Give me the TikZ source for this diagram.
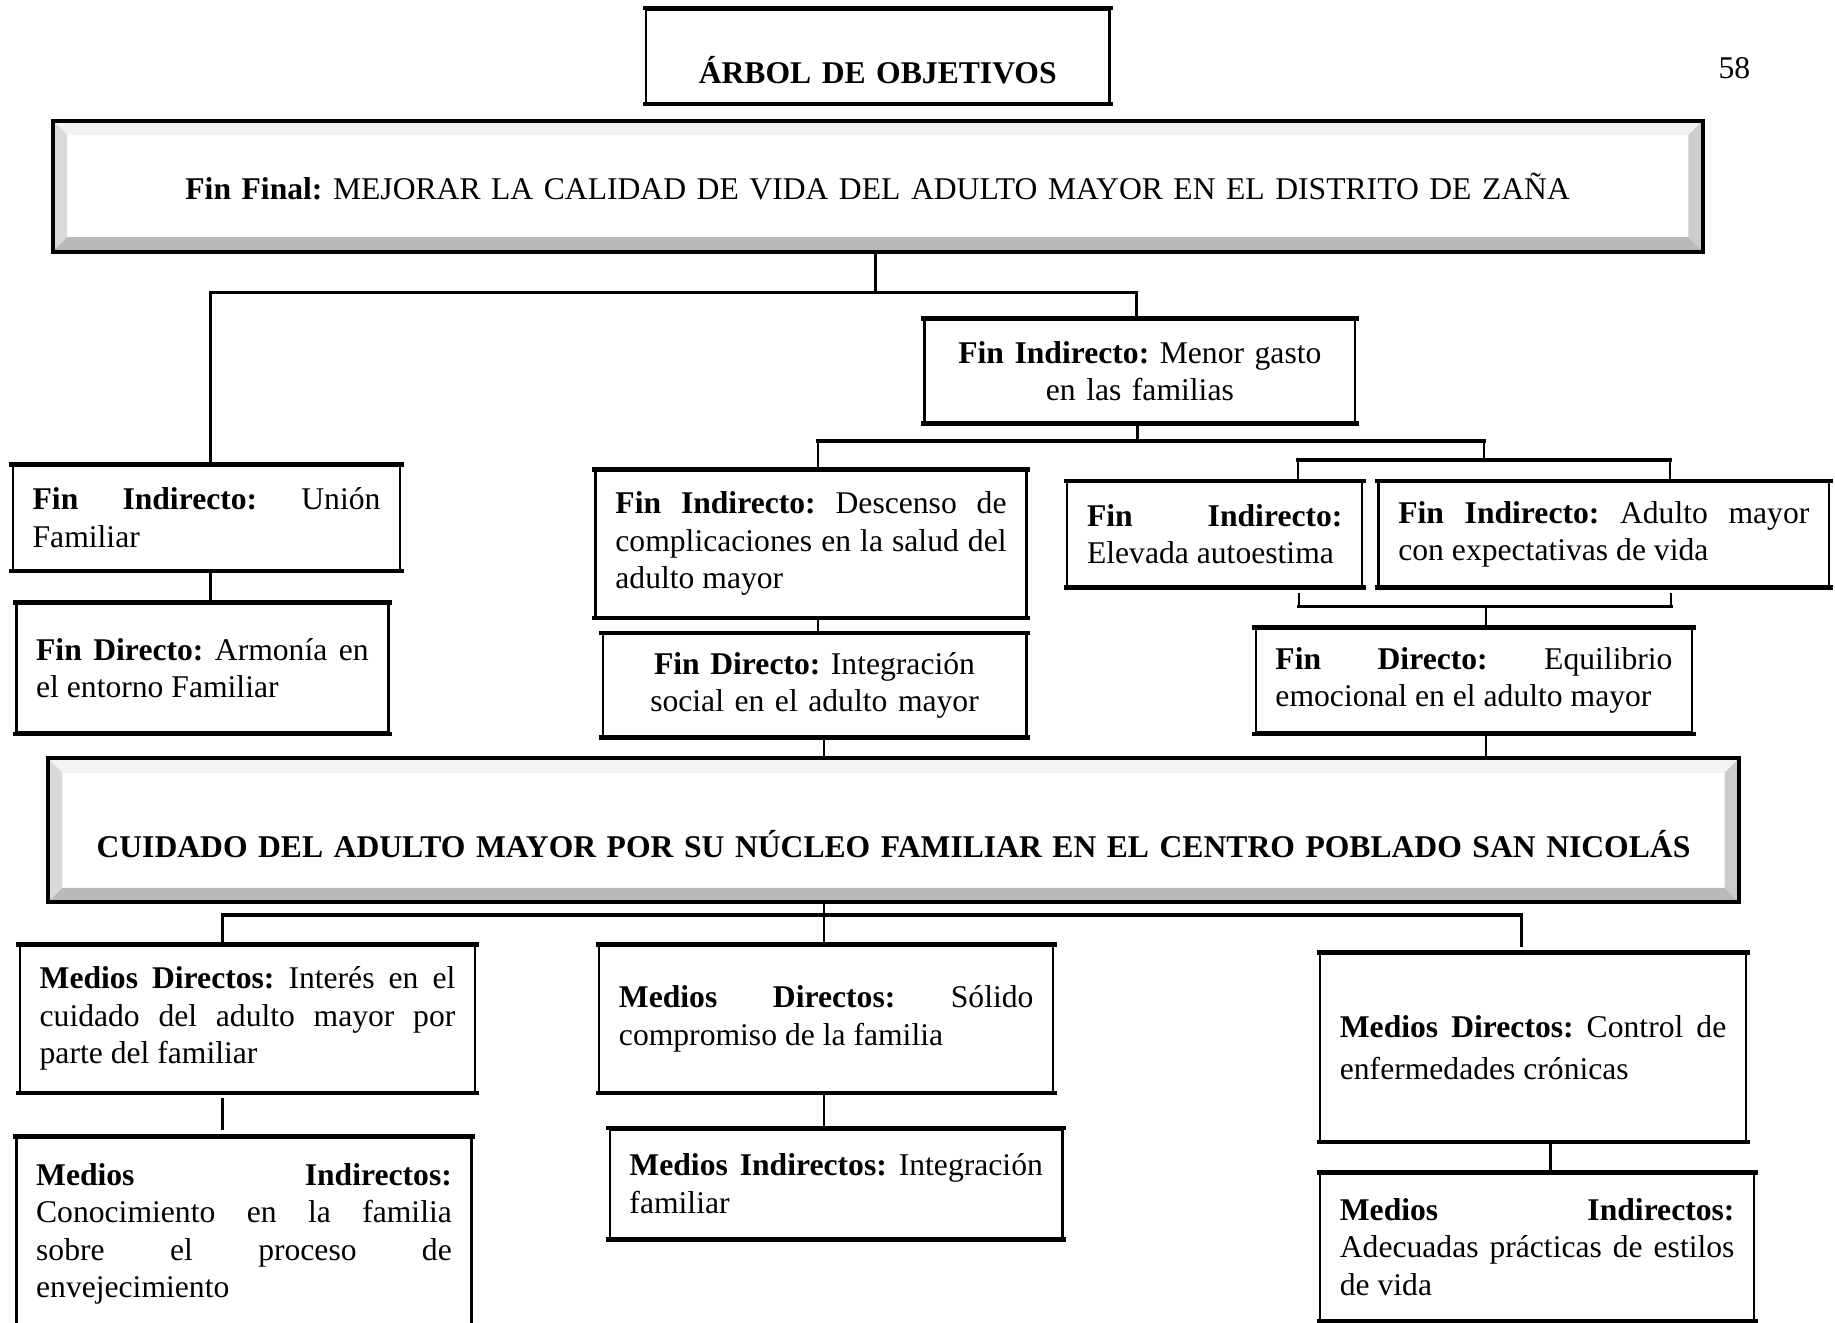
\documentclass[tikz,border=0pt]{standalone}
\usepackage{fontspec}
\setmainfont{Liberation Serif}
\usetikzlibrary{positioning,calc}

\tikzset{
  ancho/.code={%
    \pgfmathsetlengthmacro\anchocaja{#1*0.444pt}%
    \pgfmathsetlengthmacro\anchotexto{#1*0.444pt-15pt}%
    \edef\cajatmp{\noexpand\tikzset{minimum width=\anchocaja,text width=\anchotexto}}\cajatmp},
  alto/.code={%
    \pgfmathsetlengthmacro\altocaja{#1*0.444pt}%
    \edef\cajatmp{\noexpand\tikzset{minimum height=\altocaja}}\cajatmp},
}

\begin{document}
\frenchspacing
\begin{tikzpicture}[x=0.444pt,y=-0.444pt,
    font=\fontsize{12}{14.2}\selectfont,
    execute at begin node={\frenchspacing\tolerance=10000\hyphenpenalty=10000\relax},
    borde/.style={line width=1.7pt,line cap=rect},
    caja/.style={draw,line width=0.9pt,inner xsep=7.5pt,inner ysep=2pt,align=justify,
      append after command={\pgfextra{\let\cajanodo\tikzlastnode}
        (\cajanodo.north west) edge[draw,borde] (\cajanodo.north east)
        (\cajanodo.south west) edge[draw,borde] (\cajanodo.south east)}},
    bisel/.style={draw,line width=1.5pt,fill=white,inner sep=0pt,align=center,
      path picture={
        \path (path picture bounding box.north west) coordinate (pa)
              (path picture bounding box.north east) coordinate (pb)
              (path picture bounding box.south east) coordinate (pc)
              (path picture bounding box.south west) coordinate (pd);
        \fill[gray!10] (pa) -- (pb) -- ([shift={(-5.5pt,-5.5pt)}]pb) -- ([shift={(5.5pt,-5.5pt)}]pa) -- cycle;
        \fill[gray!30] (pa) -- (pd) -- ([shift={(5.5pt,5.5pt)}]pd) -- ([shift={(5.5pt,-5.5pt)}]pa) -- cycle;
        \fill[gray!40] (pb) -- (pc) -- ([shift={(-5.5pt,5.5pt)}]pc) -- ([shift={(-5.5pt,-5.5pt)}]pb) -- cycle;
        \fill[gray!55] (pd) -- (pc) -- ([shift={(-5.5pt,5.5pt)}]pc) -- ([shift={(5.5pt,5.5pt)}]pd) -- cycle;
      }},
    vert/.style={line width=0.9pt},
    horiz/.style={line width=1.3pt,line cap=rect}]

  \useasboundingbox (0,0) rectangle (1568,1130);

  % titulo y fin final
  \node[caja,ancho=396,alto=80,align=center,text height=20.4pt,text depth=0pt] (titulo) at (750,48) {\textbf{ÁRBOL DE OBJETIVOS}};
  \node (pagina) at (1482,58) {58};
  \node[bisel,ancho=1410,alto=112] (final) at (750,159) {\textbf{Fin Final:} MEJORAR LA CALIDAD DE VIDA DEL ADULTO MAYOR EN EL DISTRITO DE ZAÑA};

  % fines
  \node[caja,ancho=368,alto=88,align=center] (gasto) at (974,317) {\textbf{Fin Indirecto:} Menor gasto\\ en las familias};
  \node[caja,ancho=331,alto=89] (union) at (176.5,442.5) {\textbf{Fin Indirecto:} Unión\linebreak Familiar};
  \node[caja,ancho=318,alto=110] (armonia) at (173,571) {\textbf{Fin Directo:} Armonía en\linebreak el entorno Familiar};
  \node[caja,ancho=368,alto=125] (descenso) at (693,464.5) {\textbf{Fin Indirecto:} Descenso de\linebreak complicaciones en la salud del\linebreak adulto mayor};
  \node[caja,ancho=362,alto=87,align=center] (integra) at (696,585.5) {\textbf{Fin Directo:} Integración\\ social en el adulto mayor};
  \node[caja,ancho=252,alto=89] (elevada) at (1038,456.5) {\textbf{Fin Indirecto:}\linebreak Elevada autoestima};
  \node[caja,ancho=385,alto=89] (expecta) at (1370.5,456.5) {\textbf{Fin Indirecto:} Adulto mayor\linebreak con expectativas de vida};
  \node[caja,ancho=373,alto=89] (equilibrio) at (1259.5,581.5) {\textbf{Fin Directo:} Equilibrio\linebreak emocional en el adulto mayor};

  % problema central
  \node[bisel,ancho=1445,alto=123,text height=20.8pt,text depth=0pt] (cuidado) at (763.5,709.5) {\textbf{CUIDADO DEL ADULTO MAYOR POR SU NÚCLEO FAMILIAR EN EL CENTRO POBLADO SAN NICOLÁS}};

  % medios
  \node[caja,ancho=389,alto=125] (interes) at (211.5,870.5) {\textbf{Medios Directos:} Interés en el\linebreak cuidado del adulto mayor por\linebreak parte del familiar};
  \node[caja,ancho=389,alto=165] (conoc) at (208.5,1054.5) {\textbf{Medios Indirectos:}\linebreak Conocimiento en la familia\linebreak sobre el proceso de\linebreak envejecimiento};
  \node[caja,ancho=388,alto=125] (solido) at (706,870.5) {\textbf{Medios Directos:} Sólido\linebreak compromiso de la familia};
  \node[caja,ancho=387,alto=93] (intfam) at (714.5,1011.5) {\textbf{Medios Indirectos:} Integración\linebreak familiar};
  \node[caja,ancho=364,alto=160,font=\fontsize{12}{16}\selectfont] (control) at (1310,895) {\textbf{Medios Directos:} Control de\linebreak enfermedades crónicas};
  \node[caja,ancho=371,alto=125] (adecuadas) at (1313.5,1065.5) {\textbf{Medios Indirectos:}\linebreak Adecuadas prácticas de estilos\linebreak de vida};

  \coordinate (r1) at (748,250);
  \coordinate (r1a) at (180,250);
  \coordinate (r1b) at (971,250);
  \coordinate (r2) at (972,377);
  \coordinate (r2a) at (699,377);
  \coordinate (r2b) at (1268,377);
  \coordinate (r3) at (1268,393);
  \coordinate (r3a) at (1109,393);
  \coordinate (r3b) at (1427,393);
  \coordinate (r4) at (1270,518);
  \coordinate (r4a) at (1110,518);
  \coordinate (r4b) at (1428,518);
  \coordinate (r5) at (704,782);
  \coordinate (r5a) at (190,782);
  \coordinate (r5b) at (1300,782);
  \coordinate (r6) at (1325,990);

  \draw[vert] (final.south -| r1) -- (r1);
  \draw[horiz] (r1a) -- (r1b);
  \draw[vert] (r1a) -- (r1a |- union.north);
  \draw[vert] (r1b) -- (r1b |- gasto.north);
  \draw[vert] (gasto.south -| r2) -- (r2);
  \draw[horiz] (r2a) -- (r2b);
  \draw[vert] (r2a) -- (r2a |- descenso.north);
  \draw[vert] (r2b) -- (r3);
  \draw[horiz] (r3a) -- (r3b);
  \draw[vert] (r3a) -- (r3a |- elevada.north);
  \draw[vert] (r3b) -- (r3b |- expecta.north);
  \draw[vert] (union.south -| r1a) -- (r1a |- armonia.north);
  \draw[vert] (descenso.south -| r2a) -- (r2a |- integra.north);
  \draw[vert,shorten <=2pt] (elevada.south -| r4a) -- (r4a);
  \draw[vert,shorten <=2pt] (expecta.south -| r4b) -- (r4b);
  \draw[horiz] (r4a) -- (r4b);
  \draw[vert] (r4) -- (r4 |- equilibrio.north);
  \draw[vert] (integra.south -| r5) -- (r5 |- cuidado.north);
  \draw[vert] (equilibrio.south -| r4) -- (r4 |- cuidado.north);
  \draw[vert] (cuidado.south -| r5) -- (r5);
  \draw[horiz] (r5a) -- (r5b);
  \draw[vert] (r5) -- (r5 |- solido.north);
  \draw[vert] (r5a) -- (r5a |- interes.north);
  \draw[vert,shorten >=2pt] (r5b) -- (r5b |- control.north);
  \draw[vert,shorten <=2pt,shorten >=2.5pt] (interes.south -| r5a) -- (r5a |- conoc.north);
  \draw[vert] (solido.south -| r5) -- (r5 |- intfam.north);
  \draw[vert] (control.south -| r6) -- (r6 |- adecuadas.north);

\end{tikzpicture}
\end{document}
